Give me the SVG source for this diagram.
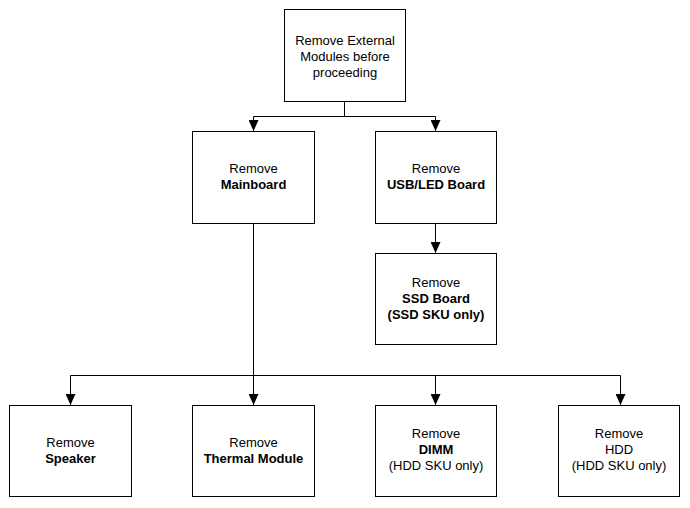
<svg xmlns="http://www.w3.org/2000/svg" width="690" height="508" viewBox="0 0 690 508">
<style>
.box{fill:#fff;stroke:#000;stroke-width:1}
.t{font-family:"Liberation Sans",Arial,sans-serif;font-size:13px;fill:#000;text-anchor:middle}
.b{font-weight:bold}
.c{fill:none;stroke:#000;stroke-width:1}
</style>
<defs>
<marker id="ah" markerUnits="userSpaceOnUse" markerWidth="10" markerHeight="12" viewBox="0 0 10 12" refX="5" refY="11" orient="0">
<path d="M0,0 L10,0 L5,11 Z" fill="#000"/>
</marker>
</defs>
<rect width="690" height="508" fill="#fff"/>
<g id="connectors">
<path class="c" d="M344.5,101 V116.5"/>
<path class="c" d="M253.5,131 V116.5 H435.5 V131" marker-start="url(#ah)" marker-end="url(#ah)"/>
<path class="c" d="M435.5,223 V253" marker-end="url(#ah)"/>
<path class="c" d="M253.5,223 V405" marker-end="url(#ah)"/>
<path class="c" d="M70.5,405 V375.5 H620.5 V405" marker-start="url(#ah)" marker-end="url(#ah)"/>
<path class="c" d="M435.5,375.5 V405" marker-end="url(#ah)"/>
</g>
<g id="n-top">
<rect class="box" x="284.5" y="9.5" width="121" height="92"/>
<text class="t" x="345" y="45">Remove External</text>
<text class="t" x="345" y="61">Modules before</text>
<text class="t" x="345" y="77">proceeding</text>
</g>
<g id="n-mainboard">
<rect class="box" x="192.5" y="131.5" width="122" height="92"/>
<text class="t" x="253.5" y="173">Remove</text>
<text class="t b" x="253.5" y="189">Mainboard</text>
</g>
<g id="n-usb">
<rect class="box" x="375.5" y="131.5" width="121" height="92"/>
<text class="t" x="436" y="173">Remove</text>
<text class="t b" x="436" y="189">USB/LED Board</text>
</g>
<g id="n-ssd">
<rect class="box" x="375.5" y="253.5" width="121" height="91"/>
<text class="t" x="436" y="287">Remove</text>
<text class="t b" x="436" y="303">SSD Board</text>
<text class="t b" x="436" y="319">(SSD SKU only)</text>
</g>
<g id="n-speaker">
<rect class="box" x="9.5" y="405.5" width="122" height="91"/>
<text class="t" x="70.5" y="447">Remove</text>
<text class="t b" x="70.5" y="463">Speaker</text>
</g>
<g id="n-thermal">
<rect class="box" x="192.5" y="405.5" width="122" height="91"/>
<text class="t" x="253.5" y="447">Remove</text>
<text class="t b" x="253.5" y="463">Thermal Module</text>
</g>
<g id="n-dimm">
<rect class="box" x="375.5" y="405.5" width="121" height="91"/>
<text class="t" x="436" y="438">Remove</text>
<text class="t b" x="436" y="454">DIMM</text>
<text class="t" x="436" y="470">(HDD SKU only)</text>
</g>
<g id="n-hdd">
<rect class="box" x="558.5" y="405.5" width="121" height="91"/>
<text class="t" x="619" y="438">Remove</text>
<text class="t" x="619" y="454">HDD</text>
<text class="t" x="619" y="470">(HDD SKU only)</text>
</g>
</svg>
